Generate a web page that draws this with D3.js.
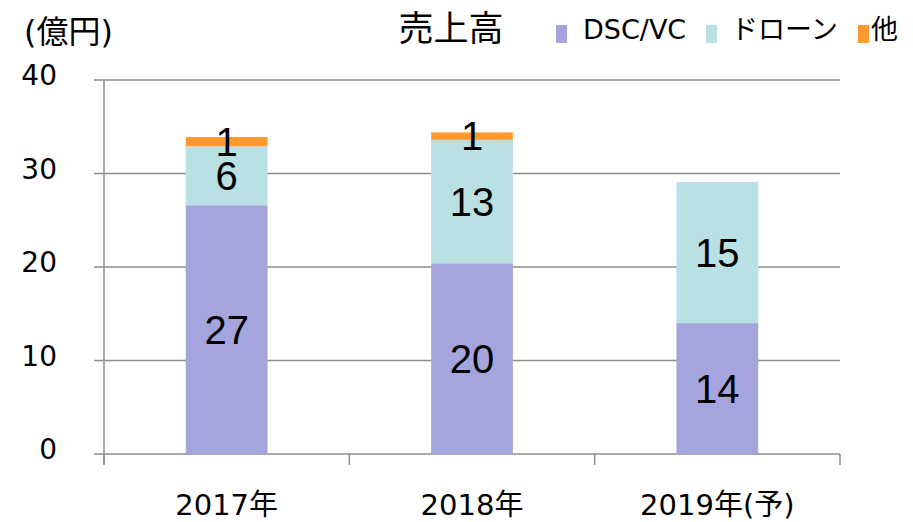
<!DOCTYPE html>
<html>
<head>
<meta charset="utf-8">
<script src="https://cdn.jsdelivr.net/npm/d3@7"></script>
<style>
  body { margin: 0; background: #fff; }
  svg { display: block; }
  .tk { font-family: "DejaVu Sans", "Noto Sans CJK JP", sans-serif; fill: #000; }
  .lbl { font-family: "Liberation Sans", Arial, sans-serif; fill: #000; }
</style>
</head>
<body>
<svg id="chart" width="913" height="522"></svg>
<script>
// ─── data ────────────────────────────────────────────────
const years    = ['2017年', '2018年', '2019年(予)'];
const dscVc    = [26.6, 20.4, 14.0];
const drone    = [6.3, 13.2, 15.1];
const other    = [1.0, 0.8, 0];
const dscLbl   = ['27', '20', '14'];
const droneLbl = ['6', '13', '15'];
const otherLbl = ['1', '1', ''];
const yTicks   = [0, 10, 20, 30, 40];
const seriesNames = ['DSC/VC', 'ドローン', '他'];
const colors      = ['#a5a5de', '#b9e0e3', '#ff9a33'];

const svg = d3.select('#chart');
const X0 = 104, X1 = 840, Y0 = 454, Y1 = 80;

const x = d3.scaleBand().domain(years).range([X0, X1]).paddingInner(0).paddingOuter(0);
const y = d3.scaleLinear().domain([0, 40]).range([Y0, Y1]);
const barW = x.bandwidth() / 3;

// gridlines + left tick stubs
svg.append('g').selectAll('line').data(yTicks).enter().append('line')
  .attr('x1', X0 - 10).attr('x2', X1)
  .attr('y1', d => y(d)).attr('y2', d => y(d))
  .attr('stroke', '#8c8c8c').attr('stroke-width', 1.5);

// y tick labels
svg.append('g').selectAll('text').data(yTicks).enter().append('text')
  .attr('class', 'tk')
  .attr('x', 57).attr('y', d => y(d) + 5)
  .attr('text-anchor', 'end').attr('font-size', 28)
  .text(d => d);

// y axis line
svg.append('line').attr('x1', X0).attr('x2', X0).attr('y1', Y1).attr('y2', Y0 + 10)
  .attr('stroke', '#8c8c8c').attr('stroke-width', 1.5);

// x ticks
const xt = years.map(d => x(d)).concat([X1]);
svg.append('g').selectAll('line').data(xt).enter().append('line')
  .attr('x1', d => d).attr('x2', d => d).attr('y1', Y0).attr('y2', Y0 + 11)
  .attr('stroke', '#8c8c8c').attr('stroke-width', 1.5);

// stacked bars
const stackData = years.map((yr, i) => ({ yr, a: dscVc[i], b: drone[i], c: other[i] }));
const stack = d3.stack().keys(['a', 'b', 'c'])(stackData);
const lbls = [dscLbl, droneLbl, otherLbl];

stack.forEach((layer, k) => {
  svg.append('g').selectAll('rect').data(layer).enter().append('rect')
    .attr('x', d => x(d.data.yr) + barW)
    .attr('width', barW)
    .attr('y', d => y(d[1]))
    .attr('height', d => y(d[0]) - y(d[1]))
    .attr('fill', colors[k]);
});

stack.forEach((layer, k) => {
  svg.append('g').selectAll('text').data(layer).enter().append('text')
    .attr('class', 'lbl')
    .attr('x', d => x(d.data.yr) + x.bandwidth() / 2)
    .attr('y', d => y((d[0] + d[1]) / 2) + 14)
    .attr('text-anchor', 'middle').attr('font-size', 40)
    .text((d, i) => lbls[k][i]);
});

// x labels
svg.append('g').selectAll('text').data(years).enter().append('text')
  .attr('class', 'tk')
  .attr('x', d => x(d) + x.bandwidth() / 2).attr('y', 515)
  .attr('text-anchor', 'middle').attr('font-size', 29)
  .text(d => d);

// unit + title
svg.append('text').attr('class', 'tk').attr('x', 24).attr('y', 43)
  .attr('font-size', 32).text('(億円)');
svg.append('text').attr('class', 'tk').attr('x', 451).attr('y', 41)
  .attr('text-anchor', 'middle').attr('font-size', 35).text('売上高');

// legend
const legX = [556, 706, 858];
const txtX = [583, 731, 871];
seriesNames.forEach((n, i) => {
  svg.append('rect').attr('x', legX[i]).attr('y', 25).attr('width', 11).attr('height', 18)
    .attr('fill', colors[i]);
  svg.append('text').attr('class', 'tk').attr('x', txtX[i]).attr('y', 39)
    .attr('font-size', 27).text(n);
});
</script>
</body>
</html>
